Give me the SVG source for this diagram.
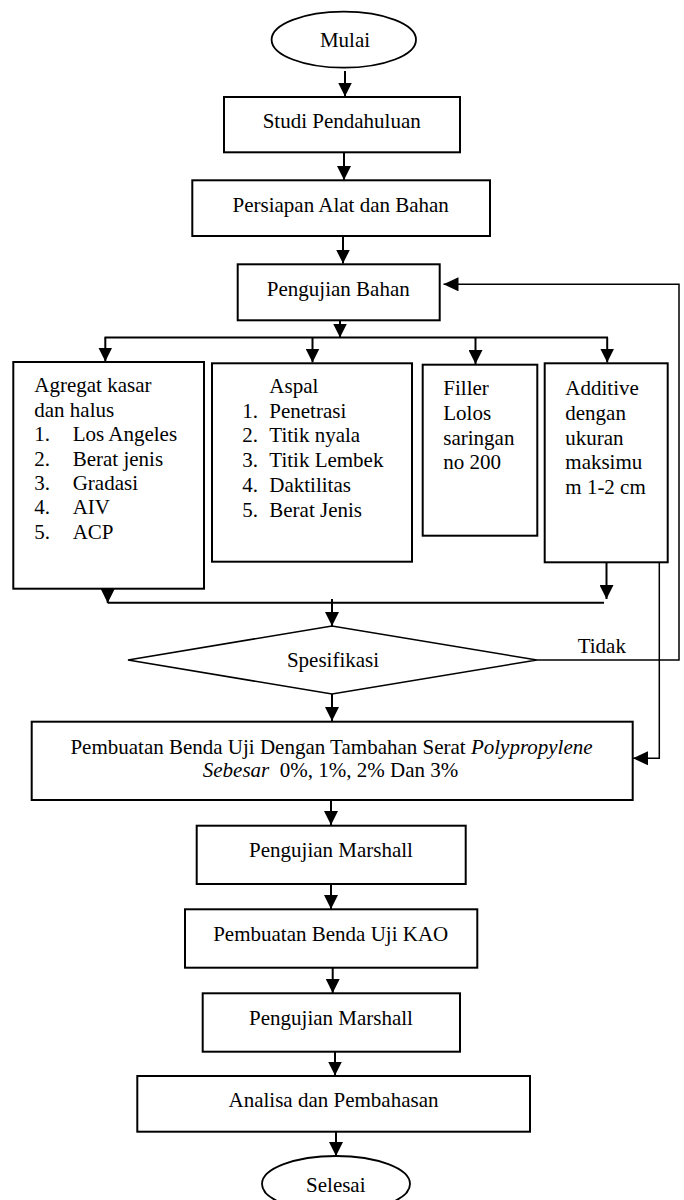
<svg xmlns="http://www.w3.org/2000/svg" width="684" height="1200" viewBox="0 0 684 1200">
<style>
  .box { fill: #fff; stroke: #000; stroke-width: 2; }
  .term { fill: #fff; stroke: #000; stroke-width: 1.8; }
  .t { font-family: "Liberation Serif", "Times New Roman", serif; font-size: 21px; fill: #000; }
  .c { text-anchor: middle; }
  .ln { fill: none; stroke: #000; stroke-width: 2; }
  .thin { fill: none; stroke: #000; stroke-width: 1.5; }
</style>
<defs>
  <marker id="ah" viewBox="0 0 14 14" refX="14" refY="7" markerWidth="14" markerHeight="14" markerUnits="userSpaceOnUse" orient="auto">
    <path d="M0,0 L14,7 L0,14 z" fill="#000"/>
  </marker>
  <marker id="ahl" viewBox="0 0 15 14" refX="15" refY="7" markerWidth="15" markerHeight="14" markerUnits="userSpaceOnUse" orient="auto">
    <path d="M0,0 L15,7 L0,14 z" fill="#000"/>
  </marker>
</defs>
<rect width="684" height="1200" fill="#fff"/>

<g id="connectors">
  <line class="ln" x1="345" y1="71" x2="345" y2="96.5" marker-end="url(#ah)"/>
  <line class="ln" x1="344" y1="152.5" x2="344" y2="180" marker-end="url(#ah)"/>
  <line class="ln" x1="343" y1="236" x2="343" y2="263.5" marker-end="url(#ah)"/>
  <line class="ln" x1="340" y1="318" x2="340" y2="337.5" marker-end="url(#ah)"/>
  <line class="ln" x1="104.5" y1="337.5" x2="608" y2="337.5"/>
  <line class="ln" x1="105.3" y1="337.5" x2="105.3" y2="361.5" marker-end="url(#ah)"/>
  <line class="ln" x1="312.5" y1="337.5" x2="312.5" y2="362.5" marker-end="url(#ah)"/>
  <line class="ln" x1="475.5" y1="337.5" x2="475.5" y2="364" marker-end="url(#ah)"/>
  <line class="ln" x1="607.2" y1="337.5" x2="607.2" y2="362.5" marker-end="url(#ah)"/>
  <line class="ln" x1="107.7" y1="589" x2="107.7" y2="603" marker-end="url(#ah)"/>
  <line class="ln" x1="107.7" y1="602.7" x2="604" y2="602.7"/>
  <line class="ln" x1="606.5" y1="562.5" x2="606.5" y2="599" marker-end="url(#ah)"/>
  <line class="ln" x1="332" y1="599" x2="332" y2="626" marker-end="url(#ah)"/>
  <line class="ln" x1="332" y1="694" x2="332" y2="721" marker-end="url(#ah)"/>
  <polyline class="thin" points="537,660 679,660 679,284.3 443.5,284.3" marker-end="url(#ahl)"/>
  <polyline class="thin" points="659.3,562.3 659.3,758.3 633,758.3" marker-end="url(#ahl)"/>
  <line class="ln" x1="331" y1="800" x2="331" y2="825" marker-end="url(#ah)"/>
  <line class="ln" x1="331" y1="884" x2="331" y2="909" marker-end="url(#ah)"/>
  <line class="ln" x1="332.7" y1="967.7" x2="332.7" y2="993" marker-end="url(#ah)"/>
  <line class="ln" x1="335" y1="1049" x2="335" y2="1075.5" marker-end="url(#ah)"/>
  <line class="ln" x1="336" y1="1131.7" x2="336" y2="1156" marker-end="url(#ah)"/>
</g>

<g id="mulai">
  <ellipse class="term" cx="343.8" cy="39.7" rx="72.2" ry="28"/>
  <text class="t c" x="345" y="46.7">Mulai</text>
</g>
<g id="studi">
  <rect class="box" x="224" y="97" width="236" height="55.3"/>
  <text class="t c" x="341.7" y="128.3">Studi Pendahuluan</text>
</g>
<g id="persiapan">
  <rect class="box" x="192.3" y="180.3" width="297.7" height="55.7"/>
  <text class="t c" x="340.7" y="212.3">Persiapan Alat dan Bahan</text>
</g>
<g id="pengujian-bahan">
  <rect class="box" x="237.7" y="264.3" width="202" height="56"/>
  <text class="t c" x="338.3" y="296">Pengujian Bahan</text>
</g>
<g id="agregat">
  <rect class="box" x="13.3" y="362" width="190.7" height="226.7"/>
  <text class="t" x="34.3" y="392.3">Agregat kasar</text>
  <text class="t" x="34.3" y="416.7">dan halus</text>
  <text class="t" x="34.3" y="441.1">1.</text><text class="t" x="72.7" y="441.1">Los Angeles</text>
  <text class="t" x="34.3" y="465.5">2.</text><text class="t" x="72.7" y="465.5">Berat jenis</text>
  <text class="t" x="34.3" y="489.9">3.</text><text class="t" x="72.7" y="489.9">Gradasi</text>
  <text class="t" x="34.3" y="514.3">4.</text><text class="t" x="72.7" y="514.3">AIV</text>
  <text class="t" x="34.3" y="538.7">5.</text><text class="t" x="72.7" y="538.7">ACP</text>
</g>
<g id="aspal">
  <rect class="box" x="212" y="363.3" width="200" height="198.4"/>
  <text class="t" x="269.3" y="393">Aspal</text>
  <text class="t" x="242.3" y="417.7">1.</text><text class="t" x="269.3" y="417.7">Penetrasi</text>
  <text class="t" x="242.3" y="442.4">2.</text><text class="t" x="269.3" y="442.4">Titik nyala</text>
  <text class="t" x="242.3" y="467.1">3.</text><text class="t" x="269.3" y="467.1">Titik Lembek</text>
  <text class="t" x="242.3" y="491.8">4.</text><text class="t" x="269.3" y="491.8">Daktilitas</text>
  <text class="t" x="242.3" y="516.5">5.</text><text class="t" x="269.3" y="516.5">Berat Jenis</text>
</g>
<g id="filler">
  <rect class="box" x="422.7" y="364.7" width="114.6" height="171"/>
  <text class="t" x="443.3" y="395.3">Filler</text>
  <text class="t" x="443.3" y="420">Lolos</text>
  <text class="t" x="443.3" y="444.7">saringan</text>
  <text class="t" x="443.3" y="469.4">no 200</text>
</g>
<g id="additive">
  <rect class="box" x="544.7" y="363.3" width="123" height="199"/>
  <text class="t" x="565.3" y="395.3">Additive</text>
  <text class="t" x="565.3" y="420">dengan</text>
  <text class="t" x="565.3" y="444.7">ukuran</text>
  <text class="t" x="565.3" y="469.4">maksimu</text>
  <text class="t" x="565.3" y="494.1">m 1-2 cm</text>
</g>
<g id="spesifikasi">
  <polygon class="term" points="128,660 332,626 537,660 332,694" style="stroke-width:1.6"/>
  <text class="t c" x="333" y="667">Spesifikasi</text>
  <text class="t" x="577.7" y="652.7">Tidak</text>
</g>
<g id="pembuatan">
  <rect class="box" x="31.7" y="721.7" width="601" height="78.3"/>
  <text class="t c" x="331.5" y="753.5">Pembuatan Benda Uji Dengan Tambahan Serat <tspan font-style="italic">Polypropylene</tspan></text>
  <text class="t c" x="330.5" y="777"><tspan font-style="italic">Sebesar</tspan>&#160; 0%, 1%, 2% Dan 3%</text>
</g>
<g id="marshall1">
  <rect class="box" x="196.7" y="825.7" width="269" height="58.3"/>
  <text class="t c" x="331" y="857.3">Pengujian Marshall</text>
</g>
<g id="kao">
  <rect class="box" x="185" y="909.3" width="292.3" height="58.4"/>
  <text class="t c" x="330.7" y="940.7">Pembuatan Benda Uji KAO</text>
</g>
<g id="marshall2">
  <rect class="box" x="202.7" y="993.3" width="257.3" height="58.4"/>
  <text class="t c" x="331" y="1025">Pengujian Marshall</text>
</g>
<g id="analisa">
  <rect class="box" x="137.3" y="1076" width="392.7" height="55.7"/>
  <text class="t c" x="333.5" y="1107.3">Analisa dan Pembahasan</text>
</g>
<g id="selesai">
  <ellipse class="term" cx="336" cy="1184" rx="74" ry="28"/>
  <text class="t c" x="335.8" y="1191.7">Selesai</text>
</g>
</svg>
